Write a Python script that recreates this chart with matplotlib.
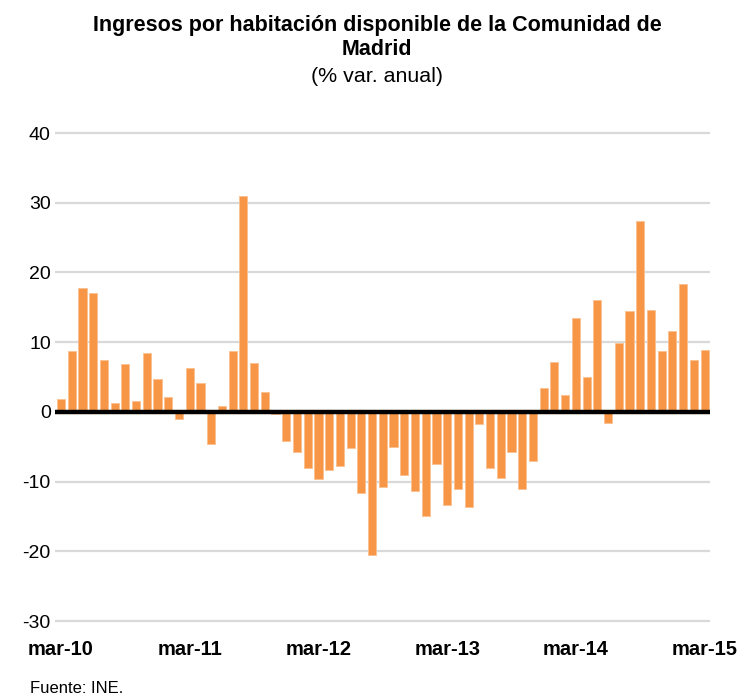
import matplotlib
matplotlib.use("Agg")
import matplotlib.pyplot as plt

plt.rcParams['font.family'] = ['Liberation Sans', 'DejaVu Sans']

# % var. anual, monthly mar-10 .. mar-15
values = [
    1.8, 8.7, 17.7, 17.1, 7.4, 1.3, 6.9, 1.6, 8.5, 4.7, 2.2, -1.0,
    6.3, 4.2, -4.6, 0.8, 8.8, 31.0, 7.0, 2.9, -0.3, -4.2, -5.7, -8.0,
    -9.6, -8.4, -7.7, -5.2, -11.6, -20.6, -10.8, -5.0, -9.1, -11.4, -15.0, -7.5,
    -13.3, -11.0, -13.6, -1.7, -8.1, -9.5, -5.7, -11.0, -7.0, 3.4, 7.2, 2.4,
    13.5, 5.0, 16.0, -1.6, 9.9, 14.4, 27.4, 14.6, 8.7, 11.6, 18.4, 7.4, 8.9,
]
tick_pos = [0, 12, 24, 36, 48, 60]
tick_labels = ['mar-10', 'mar-11', 'mar-12', 'mar-13', 'mar-14', 'mar-15']
y_ticks = [-30, -20, -10, 0, 10, 20, 30, 40]

fig = plt.figure(figsize=(7.38, 6.99), dpi=100)
ax = fig.add_axes([0.0745, 0.1066, 0.8875, 0.7081])

for y in y_ticks:
    if y != 0:
        ax.axhline(y, color='#d9d9d9', linewidth=1.6, zorder=0)

ax.bar(range(len(values)), values, width=0.76, color='#f79646',
       edgecolor='#fbc08f', linewidth=0.6, zorder=2)
ax.axhline(0, color='black', linewidth=3.2, zorder=3)

ax.set_xlim(-0.56, 60.5)
ax.set_ylim(-30.5, 40.5)
ax.set_yticks(y_ticks)
ax.set_yticklabels([str(y) for y in y_ticks], fontsize=14)
ax.set_xticks(tick_pos)
ax.set_xticklabels(tick_labels, fontsize=14.5, fontweight='bold')
ax.tick_params(axis='both', length=0)
ax.tick_params(axis='y', pad=3)
ax.tick_params(axis='x', pad=11)
for s in ax.spines.values():
    s.set_visible(False)

fig.text(0.511, 0.979, "Ingresos por habitación disponible de la Comunidad de\nMadrid",
         ha='center', va='top', fontsize=15.5, fontweight='bold', linespacing=1.2)
fig.text(0.511, 0.891, "(% var. anual)", ha='center', va='center', fontsize=15.4)
fig.text(0.04, 0.005, "Fuente: INE.", ha='left', va='bottom', fontsize=12)

fig.savefig("out.png", dpi=100)
